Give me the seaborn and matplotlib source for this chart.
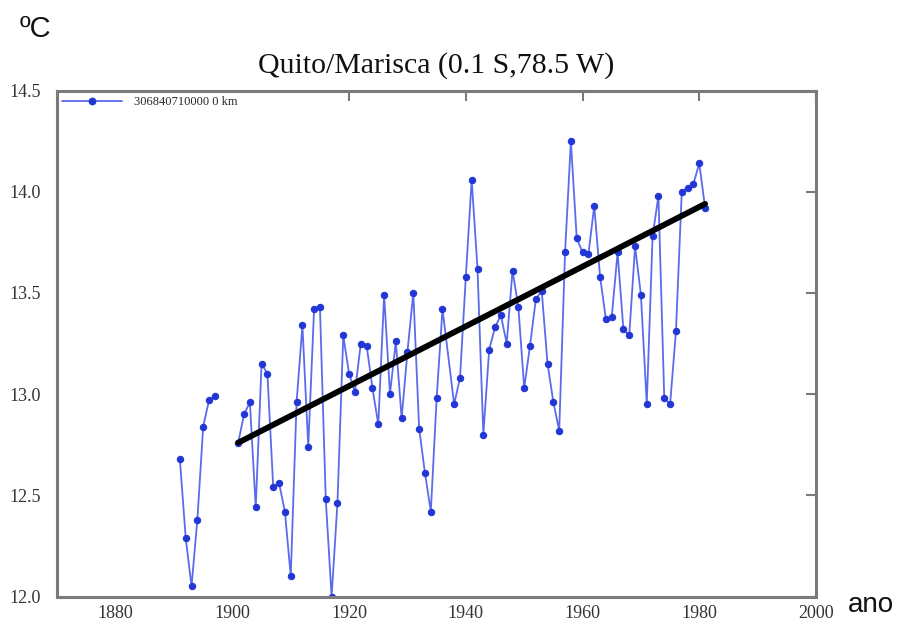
import numpy as np
import pandas as pd
import matplotlib
matplotlib.use("Agg")
import matplotlib.pyplot as plt
from matplotlib.lines import Line2D
import seaborn as sns

# Annual mean temperature, Quito/Mariscal station (ºC)
years_a = [1891, 1892, 1893, 1894, 1895, 1896, 1897]
temps_a = [12.68, 12.29, 12.05, 12.38, 12.84, 12.97, 12.99]

years_b = [1901, 1902, 1903, 1904, 1905, 1906, 1907, 1908, 1909, 1910,
           1911, 1912, 1913, 1914, 1915, 1916, 1917, 1918, 1919, 1920,
           1921, 1922, 1923, 1924, 1925, 1926, 1927, 1928, 1929, 1930,
           1931, 1932, 1933, 1934, 1935, 1936, 1938, 1939, 1940,
           1941, 1942, 1943, 1944, 1945, 1946, 1947, 1948, 1949, 1950,
           1951, 1952, 1953, 1954, 1955, 1956, 1957, 1958, 1959, 1960,
           1961, 1962, 1963, 1964, 1965, 1966, 1967, 1968, 1969, 1970,
           1971, 1972, 1973, 1974, 1975, 1976, 1977, 1978, 1979, 1980,
           1981]
temps_b = [12.76, 12.90, 12.96, 12.44, 13.15, 13.10, 12.54, 12.56, 12.42, 12.10,
           12.96, 13.34, 12.74, 13.42, 13.43, 12.48, 12.00, 12.46, 13.29, 13.10,
           13.01, 13.25, 13.24, 13.03, 12.85, 13.49, 13.00, 13.26, 12.88, 13.21,
           13.50, 12.83, 12.61, 12.42, 12.98, 13.42, 12.95, 13.08, 13.58,
           14.06, 13.62, 12.80, 13.22, 13.33, 13.39, 13.25, 13.61, 13.43, 13.03,
           13.24, 13.47, 13.51, 13.15, 12.96, 12.82, 13.70, 14.25, 13.77, 13.70,
           13.69, 13.93, 13.58, 13.37, 13.38, 13.70, 13.32, 13.29, 13.73, 13.49,
           12.95, 13.78, 13.98, 12.98, 12.95, 13.31, 14.00, 14.02, 14.04, 14.14,
           13.92]

# Linear trend 1901-1981
trend_years = [1901, 1981]
trend_temps = [12.76, 13.94]

station_label = "306840710000 0 km"
title = "Quito/Marisca (0.1 S,78.5 W)"
x_ticks = [1880, 1900, 1920, 1940, 1960, 1980, 2000]
y_ticks = [12.0, 12.5, 13.0, 13.5, 14.0, 14.5]

df = pd.DataFrame({
    "year": years_a + years_b,
    "temp": temps_a + temps_b,
    "segment": ["a"] * len(years_a) + ["b"] * len(years_b),
})
trend = pd.DataFrame({"year": trend_years, "temp": trend_temps})

sns.set_style("white")
serif = ["Liberation Serif", "DejaVu Serif"]
sans = ["Liberation Sans", "DejaVu Sans"]

fig = plt.figure(figsize=(8.98, 6.26), dpi=100)
ax = fig.add_axes([0.0638, 0.0471, 0.8449, 0.8083])

line_color = "#5a6cec"
marker_color = "#2236d6"

sns.lineplot(data=df, x="year", y="temp", units="segment", estimator=None,
             color=line_color, linewidth=1.3, marker="o", markersize=4.6,
             markerfacecolor=marker_color, markeredgecolor=marker_color,
             legend=False, ax=ax, zorder=3)
sns.lineplot(data=trend, x="year", y="temp", color="black", linewidth=4.2,
             legend=False, ax=ax, zorder=4)

ax.set_xlim(1870, 2000)
ax.set_ylim(12.0, 14.5)
ax.set_xticks(x_ticks)
ax.set_yticks(y_ticks)
ax.set_xticklabels([str(t) for t in x_ticks])
ax.set_yticklabels([f"{t:.1f}" for t in y_ticks])
ax.set_xlabel("")
ax.set_ylabel("")

# frame sits above the legend box; tick marks stay below it
spine_color = "#7a7a7a"
for s in ax.spines.values():
    s.set_color(spine_color)
    s.set_linewidth(2.2)
    s.set_zorder(6)
ax.tick_params(direction="in", length=7, width=1.5, color=spine_color,
               top=True, right=True, labelsize=13, labelcolor="#333333")
ax.tick_params(axis="y", pad=12)
ax.tick_params(axis="x", pad=6)
for lab in ax.get_xticklabels() + ax.get_yticklabels():
    lab.set_family(serif)

handle = Line2D([], [], color=line_color, linewidth=1.3, marker="o",
                markersize=4.6, markerfacecolor=marker_color,
                markeredgecolor=marker_color)
leg = ax.legend([handle], [station_label], loc="upper left",
                bbox_to_anchor=(0.0, 0.997), borderaxespad=0.05,
                borderpad=0.3, handlelength=4.8, handletextpad=1.0,
                frameon=True, fancybox=False, framealpha=1.0,
                facecolor="white", edgecolor="none",
                prop={"family": serif, "size": 9})
leg.set_zorder(5)

fig.text(0.4855, 0.896, title, ha="center", va="center", family=serif,
         fontsize=21.5, color="#111111")
fig.text(0.022, 0.953, "ºC", ha="left", va="center", family=sans,
         fontsize=21, color="#111111")
fig.text(0.944, 0.033, "ano", ha="left", va="center", family=sans,
         fontsize=20, color="#111111")

fig.savefig("out.png", dpi=100)
